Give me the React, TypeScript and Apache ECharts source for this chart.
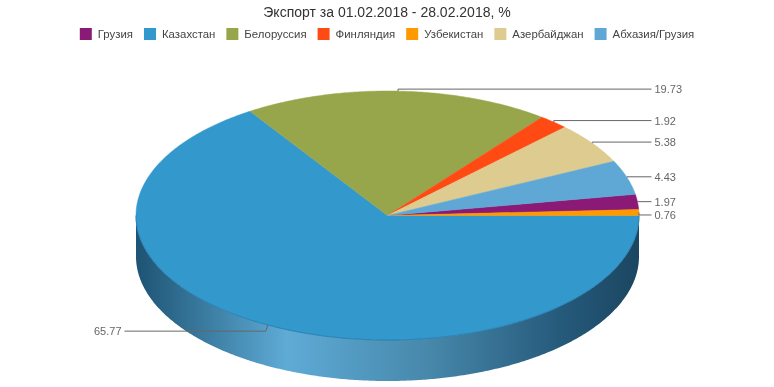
import React, { useEffect, useRef } from "react";
import * as echarts from "echarts";

// ---- data ----
const titleText = "Экспорт за 01.02.2018 - 28.02.2018, %";
const countries = ["Грузия", "Казахстан", "Белоруссия", "Финляндия", "Узбекистан", "Азербайджан", "Абхазия/Грузия"];
const values = [1.97, 65.77, 19.73, 1.92, 0.76, 5.38, 4.43];
const colors = ["#8a1a76", "#3398cc", "#98a64b", "#ff4a14", "#ff9900", "#ddcb8f", "#5fa8d6"];
// angular order of slices, counter-clockwise from 3 o'clock
const sliceOrder = ["Узбекистан", "Грузия", "Абхазия/Грузия", "Азербайджан", "Финляндия", "Белоруссия", "Казахстан"];

export default function App() {
  const ref = useRef<HTMLDivElement>(null);
  useEffect(() => {
    const chart = echarts.init(ref.current!, null, { renderer: "svg" });
    const total = values.reduce((a, b) => a + b, 0);
    const ranges: Record<string, [number, number]> = {};
    let acc = 0;
    sliceOrder.forEach((n) => {
      const v = values[countries.indexOf(n)];
      const s = (acc / total) * 360;
      acc += v;
      ranges[n] = [s, (acc / total) * 360];
    });

    const geo = (api: any) => {
      const w = api.getWidth();
      return { cx: w / 2 + 0.5, cy: 215.5, rx: 251.5, ry: 124.5, depth: 41 };
    };
    const pt = (g: any, deg: number, dy = 0) => {
      const r = (deg * Math.PI) / 180;
      return [g.cx + g.rx * Math.cos(r), g.cy - g.ry * Math.sin(r) + dy];
    };
    const arc = (g: any, a: number, b: number, dy = 0) => {
      const pts: number[][] = [];
      const n = Math.max(2, Math.ceil(Math.abs(b - a) / 0.5));
      for (let i = 0; i <= n; i++) pts.push(pt(g, a + ((b - a) * i) / n, dy));
      return pts;
    };

    const series = countries.map((name, i) => ({
      type: "custom",
      name,
      coordinateSystem: "none",
      silent: true,
      data: [[ranges[name][0], ranges[name][1], values[i]]],
      renderItem: (params: any, api: any) => {
        const g = geo(api);
        const s = api.value(0), e = api.value(1), v = api.value(2);
        const children: any[] = [];
        const a = Math.max(s, 180), b = Math.min(e, 360);
        if (a < b) {
          const top = arc(g, a, b);
          const bot = arc(g, b, a, g.depth);
          children.push({
            type: "polygon",
            z2: 1,
            shape: { points: top.concat(bot) },
            style: {
              fill: new echarts.graphic.LinearGradient(0, 0, 1, 0, [
                { offset: 0, color: "#1d5373" },
                { offset: 0.3, color: "#5eabd6" },
                { offset: 0.58, color: "#4788ab" },
                { offset: 0.85, color: "#25597a" },
                { offset: 1, color: "#1b4661" },
              ]),
            },
          });
          children.push({
            type: "polyline",
            z2: 3,
            shape: { points: arc(g, a, b) },
            style: { stroke: "#2a7fb0", lineWidth: 1, fill: null },
          });
        }
        children.push({
          type: "polygon",
          z2: 2,
          shape: { points: [[g.cx, g.cy]].concat(arc(g, s, e)) },
          style: { fill: colors[i], stroke: colors[i], lineWidth: 0.5 },
        });
        const mid = (s + e) / 2;
        const ep = pt(g, mid);
        const sn = Math.sin((mid * Math.PI) / 180);
        const right = Math.cos((mid * Math.PI) / 180) >= 0;
        let ly = g.cy - sn * (g.ry + (sn < 0 ? 7 : 2));
        if (right && sn < 0.05) ly += 2.5;
        const lineEnd = right ? g.cx + g.rx + 12.5 : g.cx - g.rx - 11.5;
        children.push({
          type: "polyline",
          z2: 4,
          shape: { points: [ep, [ep[0] + (right ? 0 : -2), ly], [lineEnd, ly]] },
          style: { stroke: "#666666", lineWidth: 1, fill: null },
        });
        children.push({
          type: "text",
          z2: 5,
          style: {
            text: v.toFixed(2),
            x: right ? lineEnd + 3 : lineEnd - 3,
            y: ly,
            align: right ? "left" : "right",
            verticalAlign: "middle",
            fill: "#666666",
            font: '11px "Liberation Sans", Arial, sans-serif',
          },
        });
        return { type: "group", children };
      },
    }));

    chart.setOption({
      animation: false,
      color: colors,
      title: {
        text: titleText,
        left: "center",
        top: 0,
        textStyle: { fontSize: 14, fontWeight: "normal", color: "#333333", fontFamily: '"Liberation Sans", Arial, sans-serif' },
      },
      legend: {
        top: 23,
        left: "center",
        icon: "rect",
        itemWidth: 12,
        itemHeight: 12,
        itemGap: 11,
        textStyle: { fontSize: 11.4, color: "#444444", padding: [0, 0, 0, 1], fontFamily: '"Liberation Sans", Arial, sans-serif' },
        data: countries,
      },
      series,
    });
    return () => chart.dispose();
  }, []);
  return <div ref={ref} style={{ position: "fixed", left: 0, top: 0, width: 774, height: 387 }} />;
}
